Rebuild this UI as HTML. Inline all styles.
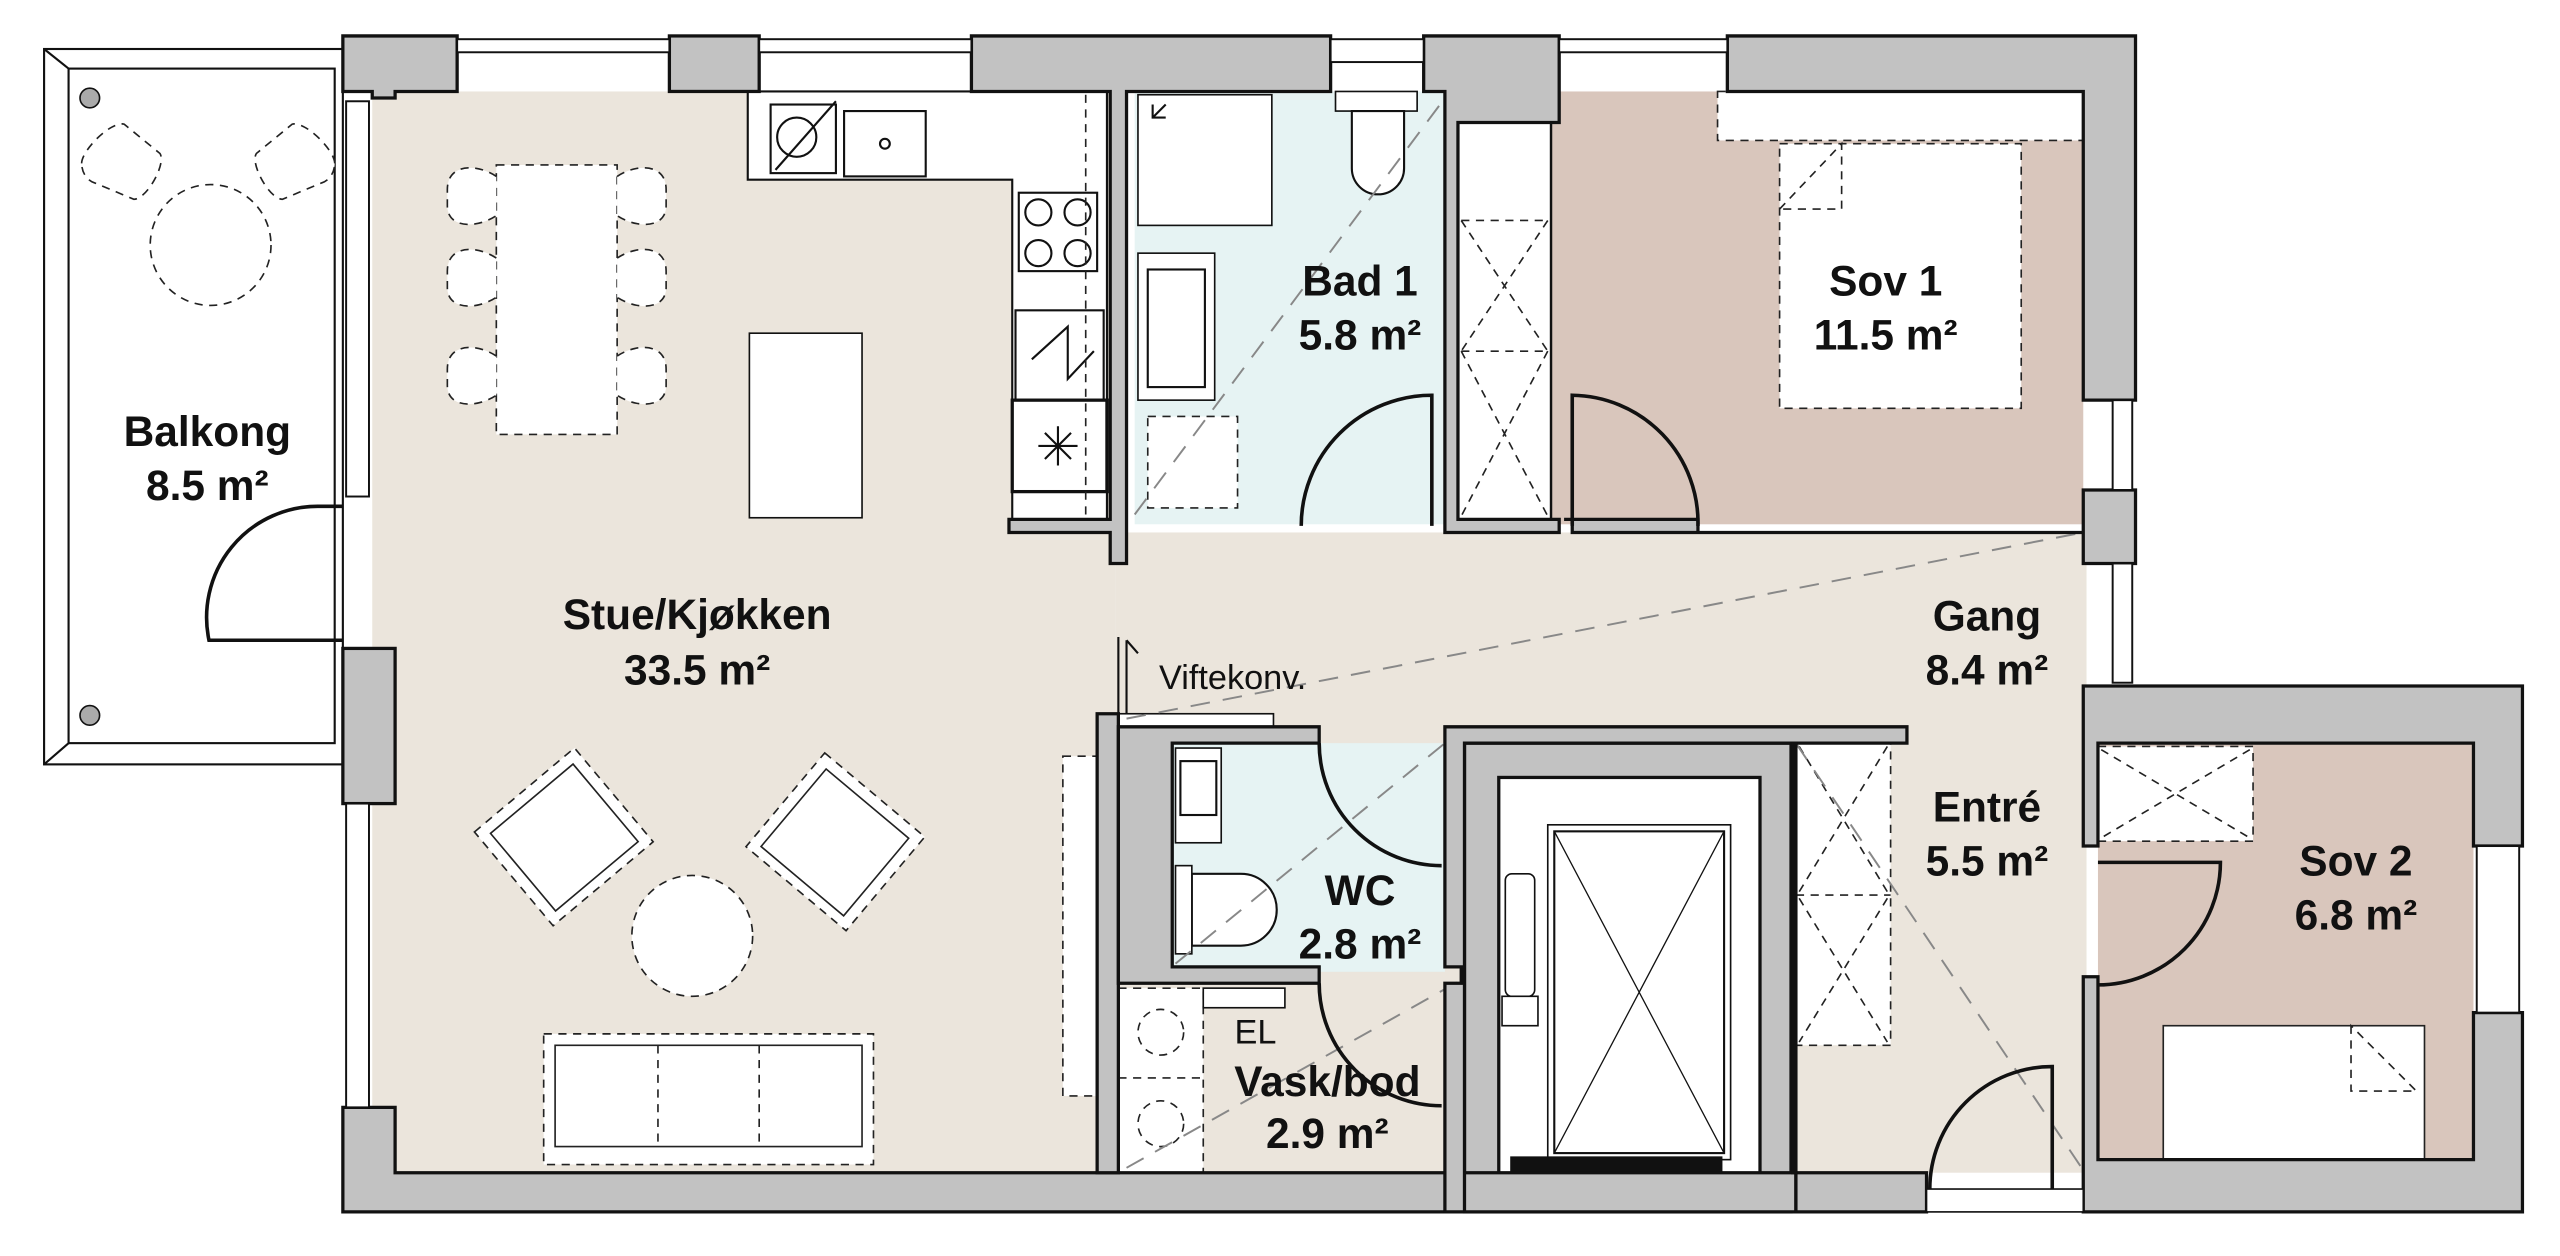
<!DOCTYPE html>
<html><head><meta charset="utf-8"><style>
html,body{margin:0;padding:0;background:#fff;width:2560px;height:1256px;overflow:hidden}
svg{display:block}
text{font-family:"Liberation Sans",Arial,sans-serif;text-anchor:middle;fill:#111}
.b{font-weight:bold;font-size:26px}
.w{fill:#c2c2c2;stroke:#111;stroke-width:2}
.l{fill:none;stroke:#111;stroke-width:1.3}
.d{fill:#fff;stroke:#222;stroke-width:1;stroke-dasharray:5 4}
.dn{fill:none;stroke:#222;stroke-width:1;stroke-dasharray:5 4}
.dg{fill:none;stroke:#888;stroke-width:1.2;stroke-dasharray:12 8}
.door{fill:none;stroke:#111;stroke-width:2.2}
</style></head><body>
<svg width="2560" height="1256" viewBox="0 0 1568 769" preserveAspectRatio="none">
<rect x="228" y="56" width="455" height="662" fill="#ebe5dc"/>
<rect x="683" y="326" width="595" height="392" fill="#ebe5dc"/>
<rect x="695" y="56" width="190" height="265" fill="#e6f3f3"/>
<rect x="950" y="56" width="326" height="265" fill="#d9c6bc"/>
<rect x="718" y="455" width="167" height="140" fill="#e6f3f3"/>
<rect x="685" y="600" width="210" height="118" fill="#ebe5dc"/>
<rect x="1285" y="455" width="230" height="258" fill="#d9c6bc"/>
<path d="M458 56H678V318H620V110H458Z" fill="#fff" stroke="#111" stroke-width="1.3"/>
<rect x="472" y="64" width="40" height="42" class="l"/><circle cx="488" cy="84" r="12" class="l"/><line x1="475" y1="104" x2="512" y2="62" class="l"/>
<rect x="517" y="68" width="50" height="40" class="l"/><circle cx="542" cy="88" r="3" class="l"/>
<rect x="624" y="118" width="48" height="48" class="l"/>
<circle cx="636" cy="130" r="8" class="l"/><circle cx="660" cy="130" r="8" class="l"/><circle cx="636" cy="155" r="8" class="l"/><circle cx="660" cy="155" r="8" class="l"/>
<rect x="622" y="190" width="54" height="55" class="l"/><path d="M632 220L654 200V232L670 215" class="l"/>
<rect x="620" y="245" width="58" height="56" fill="#fff" stroke="#111" stroke-width="2"/>
<path d="M636 273H660M648 261V285M640 265L656 281M656 265L640 281" class="l"/>
<line x1="665" y1="58" x2="665" y2="315" class="dn"/>
<rect x="459" y="204" width="69" height="113" fill="#fff" stroke="#111" stroke-width="1"/>
<rect x="304" y="101" width="74" height="165" class="d"/>
<g class="d">
<path d="M304 108c-12-8-30-8-30 8v10c0 14 18 14 30 6"/><path d="M304 158c-12-8-30-8-30 8v10c0 14 18 14 30 6"/><path d="M304 218c-12-8-30-8-30 8v10c0 14 18 14 30 6"/>
<path d="M378 108c12-8 30-8 30 8v10c0 14-18 14-30 6"/><path d="M378 158c12-8 30-8 30 8v10c0 14-18 14-30 6"/><path d="M378 218c12-8 30-8 30 8v10c0 14-18 14-30 6"/>
</g>
<rect x="305" y="475" width="80" height="75" transform="rotate(-40 345 512)" class="d"/>
<rect x="312" y="482" width="66" height="62" transform="rotate(-40 345 512)" fill="#fff" stroke="#222" stroke-width="1"/>
<rect x="472" y="478" width="80" height="75" transform="rotate(40 512 515)" class="d"/>
<rect x="479" y="485" width="66" height="62" transform="rotate(40 512 515)" fill="#fff" stroke="#222" stroke-width="1"/>
<circle cx="424" cy="573" r="37" class="d"/>
<rect x="333" y="633" width="202" height="80" class="d"/>
<rect x="340" y="640" width="188" height="62" fill="#fff" stroke="#222" stroke-width="1"/>
<line x1="403" y1="640" x2="403" y2="702" class="dn"/><line x1="465" y1="640" x2="465" y2="702" class="dn"/>
<rect x="651" y="463" width="22" height="208" class="d"/>
<rect x="27" y="30" width="183" height="438" fill="#fff" stroke="#111" stroke-width="1.3"/>
<rect x="42" y="42" width="163" height="413" fill="#fff" stroke="#111" stroke-width="1.3"/>
<line x1="27" y1="30" x2="42" y2="42" class="l"/><line x1="27" y1="468" x2="42" y2="455" class="l"/>
<circle cx="55" cy="60" r="6" fill="#aaa" stroke="#111"/><circle cx="55" cy="438" r="6" fill="#aaa" stroke="#111"/>
<circle cx="129" cy="150" r="37" class="d"/>
<path d="M50 100c0-8 18-26 26-24l22 18c4 6-8 28-16 28l-24-10c-6-2-8-8-8-12z" class="d"/>
<path d="M205 100c0-8-18-26-26-24l-22 18c-4 6 8 28 16 28l24-10c6-2 8-8 8-12z" class="d"/>
<rect x="697" y="58" width="82" height="80" fill="#fff" stroke="#111" stroke-width="1"/>
<path d="M706 72L714 64M706 64V72H714" class="l"/>
<rect x="697" y="155" width="47" height="90" fill="#fff" stroke="#111" stroke-width="1"/><rect x="703" y="165" width="35" height="72" class="l"/>
<rect x="703" y="255" width="55" height="56" class="d"/>
<rect x="818" y="56" width="50" height="12" fill="#fff" stroke="#111"/>
<path d="M828 68h32v35a16 16 0 0 1-32 0z" fill="#fff" stroke="#111" stroke-width="1.3"/>
<line x1="695" y1="315" x2="885" y2="60" class="dg"/>
<rect x="893" y="57" width="50" height="14" fill="#fff" stroke="#111" stroke-width="1.5"/>
<rect x="893" y="75" width="57" height="243" fill="#fff" stroke="#111" stroke-width="1.5"/>
<path d="M895 135H948M895 215H948M895 135L948 215M948 135L895 215M895 215L948 316M948 215L895 316" class="dn"/>
<rect x="1052" y="56" width="224" height="30" class="d"/>
<rect x="1090" y="88" width="148" height="162" class="d"/>
<path d="M1090 128L1128 88V128Z" class="dn"/>
<rect x="1285" y="457" width="95" height="58" class="d"/>
<path d="M1287 459L1378 513M1378 459L1287 513" class="dn"/>
<rect x="1325" y="628" width="160" height="82" fill="#fff" stroke="#222" stroke-width="1"/>
<path d="M1440 628V668H1480Z" class="dn"/>
<rect x="1100" y="455" width="58" height="185" fill="#fff" stroke="#222" stroke-width="1" stroke-dasharray="5 4"/>
<path d="M1100 548H1158M1102 457L1156 546M1156 457L1102 546M1102 550L1156 638M1156 550L1102 638" class="dn"/>
<rect x="897" y="455" width="200" height="287" class="w"/>
<rect x="918" y="476" width="160" height="264" fill="#fff" stroke="#111" stroke-width="2"/>
<rect x="948" y="505" width="112" height="205" fill="#fff" stroke="#111" stroke-width="1"/>
<rect x="952" y="509" width="104" height="197" class="l"/>
<path d="M952 509L1056 706M1056 509L952 706" stroke="#111" stroke-width="0.8" fill="none"/>
<rect x="925" y="708" width="130" height="10" fill="#111"/>
<rect x="925" y="720" width="130" height="8" fill="#fff" stroke="#111"/>
<rect x="922" y="535" width="18" height="75" rx="4" fill="#fff" stroke="#111"/>
<rect x="920" y="610" width="22" height="18" fill="#fff" stroke="#111"/>
<rect x="686" y="458" width="24" height="132" fill="#fff" stroke="#111" stroke-width="2"/>
<rect x="720" y="458" width="28" height="58" fill="#fff" stroke="#111"/><rect x="723" y="466" width="22" height="33" class="l"/>
<path d="M730 535h30a22 22 0 0 1 0 44h-30z" fill="#fff" stroke="#111" stroke-width="1.3"/>
<rect x="720" y="530" width="10" height="54" fill="#fff" stroke="#111"/>
<rect x="685" y="605" width="52" height="113" class="d"/>
<line x1="685" y1="660" x2="737" y2="660" class="dn"/>
<circle cx="711" cy="632" r="14" class="dn"/><circle cx="711" cy="688" r="14" class="dn"/>
<rect x="737" y="605" width="50" height="12" fill="#fff" stroke="#111"/>
<rect x="680" y="437" width="100" height="8" fill="#fff" stroke="#111"/>
<line x1="720" y1="590" x2="885" y2="455" class="dg"/>
<line x1="690" y1="715" x2="895" y2="600" class="dg"/>
<line x1="690" y1="440" x2="1276" y2="326" class="dg"/>
<line x1="1100" y1="455" x2="1275" y2="715" class="dg"/>
<g class="w">
<path d="M210 22H280V56H242V60H228V56H210Z"/>
<rect x="410" y="22" width="55" height="34"/>
<path d="M595 22H815V56H690V345H680V326H618V318H680V56H595Z"/>
<path d="M872 22H955V75H893V318H955V326H885V56H872Z"/>
<path d="M1058 22H1308V245H1276V56H1058Z"/>
<path d="M958 318H963V326H1276V300H1308V345H1276V326H1040V318Z"/>
<path d="M1276 420H1545V518H1515V455H1285V518H1276Z"/>
<path d="M1276 598H1285V710H1515V620H1545V742H1276Z"/>
<rect x="210" y="397" width="32" height="95"/>
<path d="M210 678H242V718H1100V742H210Z"/>
<path d="M1100 718H1180V742H1100Z"/>
<path d="M672 437H685V718H672Z"/>
<path d="M685 445H808V455H718V592H808V602H685Z"/>
<path d="M885 445H1168V455H897V742H885V602H895V592H885V455H885Z"/>
<rect x="1098" y="455" width="2" height="263"/>
</g>
<rect x="1180" y="728" width="96" height="14" fill="#fff" stroke="#111" stroke-width="1"/>
<g fill="#fff" stroke="#111" stroke-width="1.2">
<rect x="280" y="24" width="130" height="8"/><rect x="465" y="24" width="130" height="8"/>
<rect x="815" y="24" width="57" height="14"/><rect x="955" y="24" width="103" height="8"/>
<rect x="212" y="62" width="14" height="242"/><rect x="212" y="492" width="14" height="186"/>
<rect x="1294" y="245" width="12" height="55"/><rect x="1294" y="345" width="12" height="73"/>
<rect x="1517" y="518" width="26" height="102"/>
</g>
<path class="door" d="M210 310H195A68 68 0 0 0 128 392H210"/>
<path class="door" d="M797 322A80 80 0 0 1 877 242V322"/>
<path class="door" d="M963 322V242A78 78 0 0 1 1040 322"/>
<path class="door" d="M808 455A75 75 0 0 0 883 530"/>
<path class="door" d="M808 602A75 75 0 0 0 883 677"/>
<path class="door" d="M1285 528H1360A75 75 0 0 1 1285 603"/>
<path class="door" d="M1182 728A75 75 0 0 1 1257 653V728"/>
<path d="M685 390V437M690 392V437M690 392L697 400" class="l"/>
<text class="b" x="127" y="273">Balkong</text><text class="b" x="127" y="306">8.5 m²</text>
<text class="b" x="427" y="385">Stue/Kjøkken</text><text class="b" x="427" y="419">33.5 m²</text>
<text class="b" x="833" y="181">Bad 1</text><text class="b" x="833" y="214">5.8 m²</text>
<text class="b" x="1155" y="181">Sov 1</text><text class="b" x="1155" y="214">11.5 m²</text>
<text class="b" x="1217" y="386">Gang</text><text class="b" x="1217" y="419">8.4 m²</text>
<text class="b" x="1217" y="503">Entré</text><text class="b" x="1217" y="536">5.5 m²</text>
<text class="b" x="1443" y="536">Sov 2</text><text class="b" x="1443" y="569">6.8 m²</text>
<text class="b" x="833" y="554">WC</text><text class="b" x="833" y="587">2.8 m²</text>
<text class="b" x="813" y="671">Vask/bod</text><text class="b" x="813" y="703">2.9 m²</text>
<text x="769" y="639" style="font-size:21px">EL</text>
<text x="755" y="422" style="font-size:21px">Viftekonv.</text>
</svg>
</body></html>
